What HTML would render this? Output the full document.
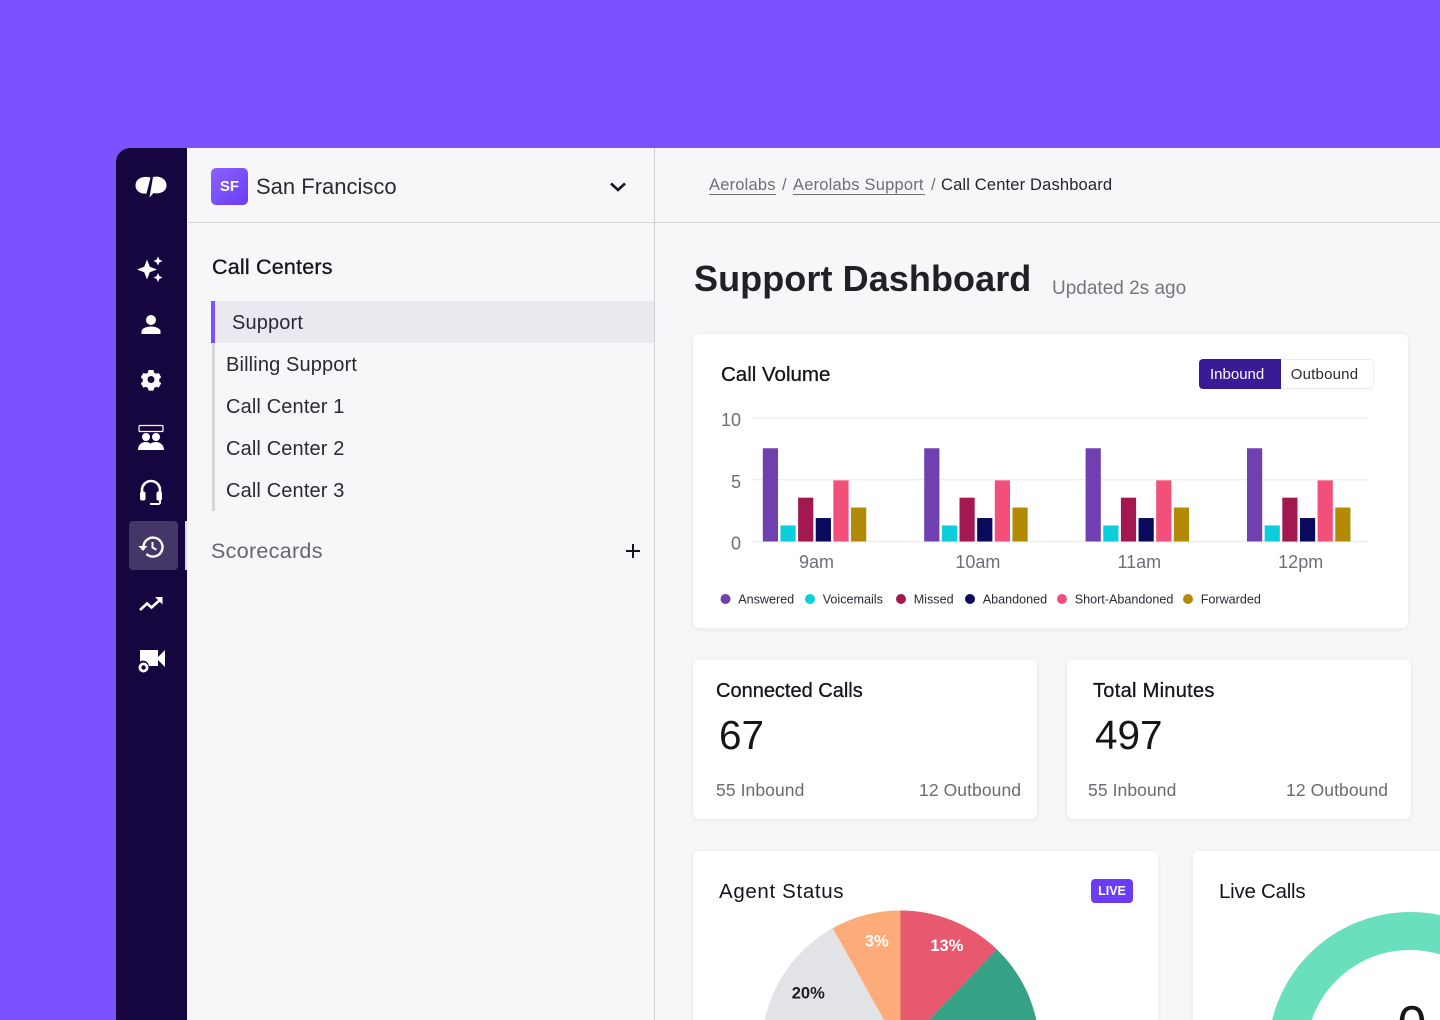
<!DOCTYPE html>
<html lang="en">
<head>
<meta charset="utf-8">
<title>Support Dashboard</title>
<style>
html,body{margin:0;padding:0;width:1440px;height:1020px;overflow:hidden;background:#7c51ff;font-family:"Liberation Sans",sans-serif;}
#stage{position:relative;width:1440px;height:1020px;overflow:hidden;background:#7c51ff;}
.a{position:absolute;}
.t{position:absolute;white-space:nowrap;line-height:24px;height:24px;}
.card{position:absolute;background:#fff;border-radius:6px;box-shadow:0 1px 5px rgba(40,30,80,.08);}
.item{font-size:20px;color:#2a2a33;letter-spacing:.14px;}
.sub{font-size:17.5px;color:#6b6b72;letter-spacing:.08px;}
.ctitle{font-size:20px;color:#15151c;-webkit-text-stroke:.3px #15151c;}
.big{font-size:40.5px;color:#15151c;}
svg{display:block;}
svg text{font-family:"Liberation Sans",sans-serif;}
</style>
</head>
<body>
<div id="stage">
  <div class="a" style="left:116px;top:148px;width:1324px;height:872px;background:#f7f7fa;border-top-left-radius:14px;overflow:hidden;">
    <div class="a" style="left:0;top:0;width:71px;height:872px;background:#16063f;"></div>
  </div>

  <svg class="a" style="left:134px;top:172px" width="34" height="28" viewBox="0 0 34 28">
    <path fill="#fff" d="M16.500 5.500C9 3.500 1.500 6.500 1.500 13.500C1.500 19 7 22.500 12.500 21.500Z"/>
    <path fill="#fff" d="M19 5C26 3.500 32.500 7 32.500 13.500C32.500 20 25 22.500 19.500 21L15.500 25.500Z"/>
  </svg>
  <svg class="a" style="left:136px;top:255px" width="28" height="28" viewBox="0 0 28 28"><path fill="#fff" d="M11 4.500l2.800 7.200 7.200 2.800-7.200 2.800L11 24.500l-2.800-7.200L1 14.500l7.200-2.800zM22 1.500l1.400 3.100 3.100 1.400-3.100 1.400L22 10.500l-1.400-3.100L17.500 6l3.100-1.400zM22 18l1.400 3.100 3.100 1.400-3.100 1.400L22 27l-1.400-3.100-3.100-1.400 3.100-1.400z"/></svg>
  <svg class="a" style="left:137px;top:310px" width="28" height="28" viewBox="0 0 28 28"><circle cx="14" cy="10" r="5" fill="#fff"/><path fill="#fff" d="M4.500 24v-2.500c0-3.500 6-5 9.500-5s9.500 1.500 9.500 5V24z"/></svg>
  <svg class="a" style="left:137px;top:365px" width="28" height="28" viewBox="0 0 28 28"><path fill="#fff" fill-rule="evenodd" d="M11.500 5h5l.6 2.600 2.100 1.200 2.500-.8 2.500 4.300-2 1.800v2.400l2 1.800-2.500 4.300-2.500-.8-2.100 1.200-.6 2.600h-5l-.6-2.600-2.100-1.200-2.500.8-2.500-4.300 2-1.800v-2.400l-2-1.800L6.300 8l2.500.8 2.100-1.200zM14 11a3.500 3.500 0 1 0 0 7 3.500 3.500 0 0 0 0-7z"/></svg>
  <svg class="a" style="left:136px;top:423px" width="30" height="28" viewBox="0 0 30 28"><rect x="3" y="2.500" width="24" height="6" rx="1" fill="none" stroke="#fff" stroke-width="1.200"/><circle cx="10" cy="14" r="4" fill="#fff"/><circle cx="20" cy="14" r="4" fill="#fff"/><path fill="#fff" d="M2 27c0-5 3.500-8 7.500-8 2 0 3.500.5 5 1.700 1.500-1.200 3.500-1.700 5.500-1.700 4 0 8 3 8 8z"/></svg>
  <svg class="a" style="left:137px;top:478px" width="28" height="28" viewBox="0 0 28 28"><path fill="none" stroke="#fff" stroke-width="2.600" d="M5 17v-5a9 9 0 0 1 18 0v5"/><rect x="3" y="13.500" width="5.500" height="9" rx="2" fill="#fff"/><rect x="19.500" y="13.500" width="5.500" height="9" rx="2" fill="#fff"/><path fill="none" stroke="#fff" stroke-width="2" d="M23 22v2.500a1.500 1.500 0 0 1-1.500 1.500H13"/></svg>

  <div class="a" style="left:129px;top:521px;width:49px;height:49px;background:#443767;border-radius:4px;"></div>
  <div class="a" style="left:185px;top:521px;width:2px;height:49px;background:#d9d9e0;"></div>
  <svg class="a" style="left:137px;top:533px" width="28" height="28" viewBox="0 0 28 28"><path fill="none" stroke="#fff" stroke-width="2.400" d="M6.500 14a9.500 9.500 0 1 1 3 7"/><path fill="#fff" d="M1.500 13h9l-4.500 5z"/><path fill="none" stroke="#fff" stroke-width="2" d="M15.500 9v5.500l4 2.200"/></svg>
  <svg class="a" style="left:137px;top:590px" width="28" height="28" viewBox="0 0 28 28"><path fill="none" stroke="#fff" stroke-width="2.600" d="M3 20l7-6.500 4.500 4L24 9"/><path fill="#fff" d="M18 7h7.500v7.500z"/></svg>
  <svg class="a" style="left:136px;top:645px" width="30" height="30" viewBox="0 0 30 30"><path fill="#fff" d="M4 5h18v16H13a6 6 0 0 0-9-4.500zM22 12l7-7v17l-7-7z"/><circle cx="7.500" cy="22.500" r="3.600" fill="none" stroke="#fff" stroke-width="2.800"/></svg>

  <div class="a" style="left:654px;top:148px;width:1px;height:872px;background:#cfcfd4;"></div>
  <div class="a" style="left:188px;top:222px;width:1252px;height:1px;background:#d6d6da;"></div>

  <div class="a" style="left:211px;top:168px;width:37px;height:37px;border-radius:5px;background:linear-gradient(135deg,#8a63ff,#6a3cf5);color:#fff;font-size:15px;font-weight:700;text-align:center;line-height:37px;">SF</div>
  <div class="t" style="left:256px;top:175px;font-size:22px;color:#2a2a33;">San Francisco</div>
  <svg class="a" style="left:608px;top:180px" width="20" height="14" viewBox="0 0 20 14"><path fill="none" stroke="#15151c" stroke-width="2.600" d="M3 3.500l7 6.500 7-6.500"/></svg>

  <div class="t" style="left:212px;top:255px;font-size:21.500px;color:#15151c;letter-spacing:.2px;-webkit-text-stroke:.3px #15151c;">Call Centers</div>
  <div class="a" style="left:212px;top:343px;width:3px;height:168px;background:#d5d5da;"></div>
  <div class="a" style="left:211px;top:301px;width:443px;height:42px;background:#e9e9ef;"></div>
  <div class="a" style="left:211px;top:301px;width:4px;height:42px;background:#7c51ff;"></div>
  <div class="t item" style="left:232px;top:311px;">Support</div>
  <div class="t item" style="left:226px;top:353px;">Billing Support</div>
  <div class="t item" style="left:226px;top:395px;">Call Center 1</div>
  <div class="t item" style="left:226px;top:437px;">Call Center 2</div>
  <div class="t item" style="left:226px;top:479px;">Call Center 3</div>
  <div class="t" style="left:211px;top:539px;font-size:21.500px;color:#66666e;letter-spacing:.3px;">Scorecards</div>
  <svg class="a" style="left:624px;top:542px" width="18" height="18" viewBox="0 0 18 18"><path stroke="#15151c" stroke-width="2" d="M9 2v14M2 9h14"/></svg>

  <div class="t" style="left:709px;top:173px;font-size:16.500px;color:#6f6f76;border-bottom:0;letter-spacing:.2px;">Aerolabs</div>
  <div class="a" style="left:709px;top:194px;width:67px;height:1px;background:#6f6f76;"></div>
  <div class="t" style="left:782px;top:173px;font-size:16.500px;color:#6f6f76;">/</div>
  <div class="t" style="left:793px;top:173px;font-size:16.500px;color:#6f6f76;letter-spacing:.2px;">Aerolabs Support</div>
  <div class="a" style="left:793px;top:194px;width:132px;height:1px;background:#6f6f76;"></div>
  <div class="t" style="left:931px;top:173px;font-size:16.500px;color:#6f6f76;">/</div>
  <div class="t" style="left:941px;top:173px;font-size:16.500px;color:#24242b;letter-spacing:.16px;">Call Center Dashboard</div>

  <div class="t" style="left:694px;top:267px;font-size:36px;font-weight:700;color:#202026;letter-spacing:.08px;">Support Dashboard</div>
  <div class="t" style="left:1052px;top:277px;font-size:19px;color:#75757c;">Updated 2s ago</div>

  <div class="card" style="left:693px;top:334px;width:715px;height:294px;"></div>
  <div class="t" style="left:721px;top:363px;font-size:20.500px;color:#15151c;-webkit-text-stroke:.3px #15151c;">Call Volume</div>
  <div class="a" style="left:1199px;top:359px;width:175px;height:30px;border:1px solid #ececf0;box-sizing:border-box;border-radius:4px;background:#fff;"></div>
  <div class="a" style="left:1199px;top:359px;width:82px;height:30px;background:#3a1b96;border-radius:4px 0 0 4px;color:#fff;font-size:15px;line-height:31px;"><span style="margin-left:11px;">Inbound</span></div>
  <div class="a" style="left:1281px;top:359px;width:87px;height:30px;color:#2a2a33;font-size:15px;text-align:center;line-height:31px;letter-spacing:.2px;">Outbound</div>

  <svg id="chart" class="a" style="left:0;top:0" width="1440" height="1020"></svg>

  <div class="card" style="left:693px;top:660px;width:344px;height:159px;"></div>
  <div class="t ctitle" style="left:716px;top:679px;">Connected Calls</div>
  <div class="t big" style="left:719px;top:723px;">67</div>
  <div class="t sub" style="left:716px;top:778px;">55 Inbound</div>
  <div class="t sub" style="left:919px;top:778px;">12 Outbound</div>

  <div class="card" style="left:1067px;top:660px;width:344px;height:159px;"></div>
  <div class="t ctitle" style="left:1093px;top:679px;letter-spacing:.3px;">Total Minutes</div>
  <div class="t big" style="left:1095px;top:723px;">497</div>
  <div class="t sub" style="left:1088px;top:778px;">55 Inbound</div>
  <div class="t sub" style="left:1286px;top:778px;">12 Outbound</div>

  <div class="card" style="left:693px;top:851px;width:465px;height:200px;"></div>
  <div class="t" style="left:719px;top:880px;font-size:20.500px;color:#15151c;letter-spacing:.65px;">Agent Status</div>
  <div class="a" style="left:1091px;top:879px;width:42px;height:24px;border-radius:4px;background:#6a3cf5;color:#fff;font-size:12.500px;font-weight:700;text-align:center;line-height:24px;">LIVE</div>

  <div class="card" style="left:1193px;top:851px;width:300px;height:200px;"></div>
  <div class="t" style="left:1219px;top:880px;font-size:20.500px;color:#15151c;letter-spacing:-.25px;">Live Calls</div>

  <svg id="pie" class="a" style="left:0;top:0" width="1440" height="1020"></svg>
  <svg class="a" style="left:0;top:0" width="1440" height="1020">
    <circle cx="1410" cy="1054" r="123" fill="none" stroke="#6adfbd" stroke-width="38"/>
    <text x="1412" y="1042" text-anchor="middle" font-size="52" fill="#15151c">0</text>
  </svg>
</div>

<script>
var categories = ["9am", "10am", "11am", "12pm"];
var seriesNames = ["Answered", "Voicemails", "Missed", "Abandoned", "Short-Abandoned", "Forwarded"];
var seriesColors = ["#703fb0", "#0ccfdc", "#a3194f", "#0a0a5c", "#f24f7b", "#b38a06"];
var answered = [7.55, 7.55, 7.55, 7.55];
var voicemails = [1.3, 1.3, 1.3, 1.3];
var missed = [3.55, 3.55, 3.55, 3.55];
var abandoned = [1.9, 1.9, 1.9, 1.9];
var shortAbandoned = [4.95, 4.95, 4.95, 4.95];
var forwarded = [2.75, 2.75, 2.75, 2.75];
var yTicks = [0, 5, 10];
var pieNames = ["Slice A", "Slice B", "Slice C", "Slice D"];
var pieValues = [12.2, 62.7, 17, 8.1];
var pieLabels = ["13%", "", "20%", "3%"];
var pieColors = ["#e8586e", "#36a184", "#e1e3e7", "#fdab78"];
var pieLabelColors = ["#ffffff", "#ffffff", "#1c1c24", "#ffffff"];

var allSeries = [answered, voicemails, missed, abandoned, shortAbandoned, forwarded];
var NS = "http://www.w3.org/2000/svg";

function yScale(v) { return 541.5 - v * 12.35; }
function groupX(g) { return 763 + g * 161.4; }
function barX(g, s) { return groupX(g) + s * 17.65; }

var chart = document.getElementById("chart");
function mk(parent, tag, attrs, text) {
  var el = document.createElementNS(NS, tag);
  for (var k in attrs) { el.setAttribute(k, attrs[k]); }
  if (text !== undefined) { el.textContent = text; }
  parent.appendChild(el);
  return el;
}

yTicks.forEach(function (tick) {
  var line = mk(chart, "line", { x1: 752, x2: 1368, y1: yScale(tick), y2: yScale(tick), stroke: "#ececf0", "stroke-width": 1.2 });
  
  
  var label = mk(chart, "text", { x: 741, y: yScale(tick) + 8, "text-anchor": "end", "font-size": 18, fill: "#6f6f76" }, String(tick));
  
  
});

allSeries.forEach(function (values, s) {
  values.forEach(function (v, g) {
    var bar = mk(chart, "rect", { x: barX(g, s) - 0.2, y: yScale(v), width: 15.2, height: yScale(0) - yScale(v), fill: seriesColors[s] });
    
    
  });
});

categories.forEach(function (c, g) {
  var label = mk(chart, "text", { x: barX(g, 0) + 53.5, y: 568, "text-anchor": "middle", "font-size": 18, fill: "#6f6f76" }, c);
  
  
});

var legendDotX = [725.5, 810, 901, 970, 1062, 1188];
seriesNames.forEach(function (name, s) {
  var dot = mk(chart, "circle", { cx: legendDotX[s], cy: 599, r: 5, fill: seriesColors[s] });
  
  
  var label = mk(chart, "text", { x: legendDotX[s] + 12.7, y: 603.5, "font-size": 12.6, fill: "#2a2a33" }, name);
  
  
});

var pie = document.getElementById("pie");
var pieCx = 900.5, pieCy = 1049.5, pieR = 139, pieLabelR = 112;
function polar(r, pct) {
  var a = pct / 100 * 2 * Math.PI;
  return [pieCx + r * Math.sin(a), pieCy - r * Math.cos(a)];
}
var pieTotal = pieValues.reduce(function (a, b) { return a + b; }, 0);
var cumulative = 0;
pieValues.forEach(function (v, i) {
  var start = cumulative / pieTotal * 100;
  cumulative += v;
  var end = cumulative / pieTotal * 100;
  var p0 = polar(pieR, start), p1 = polar(pieR, end);
  var large = end - start > 50 ? 1 : 0;
  var slice = mk(pie, "path", { d: "M" + pieCx + " " + pieCy + "L" + p0[0] + " " + p0[1] + "A" + pieR + " " + pieR + " 0 " + large + " 1 " + p1[0] + " " + p1[1] + "Z", fill: pieColors[i] });
  
  
});
cumulative = 0;
pieValues.forEach(function (v, i) {
  var start = cumulative / pieTotal * 100;
  cumulative += v;
  var mid = (start + cumulative / pieTotal * 100) / 2;
  var p = polar(pieLabelR, mid);
  if (!pieLabels[i]) { return; }
  var label = mk(pie, "text", { x: p[0] + 4.5, y: p[1] + 5.5, "text-anchor": "middle", "font-size": 16.5, "font-weight": 700, fill: pieLabelColors[i] }, pieLabels[i]);
  
  
});
</script>
</body>
</html>
